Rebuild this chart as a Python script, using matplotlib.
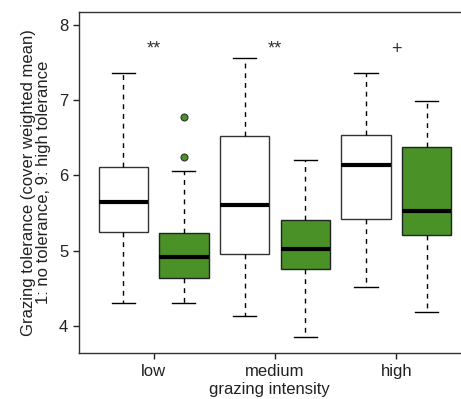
import numpy as np
import matplotlib
matplotlib.use("Agg")
import matplotlib.pyplot as plt

plt.rcParams['font.family'] = ['Liberation Sans', 'DejaVu Sans']

# ---- data ----
groups = ['low', 'medium', 'high']
# control (white) boxes
ctrl_lo = [4.30, 4.13, 4.51]
ctrl_q1 = [5.25, 4.96, 5.42]
ctrl_med = [5.65, 5.60, 6.14]
ctrl_q3 = [6.11, 6.53, 6.54]
ctrl_hi = [7.36, 7.56, 7.36]
ctrl_out = [[], [], []]
# grazed (green) boxes
graz_lo = [4.30, 3.85, 4.18]
graz_q1 = [4.64, 4.75, 5.21]
graz_med = [4.91, 5.02, 5.53]
graz_q3 = [5.24, 5.41, 6.38]
graz_hi = [6.06, 6.21, 6.99]
graz_out = [[6.25, 6.77], [], []]
signif = ['**', '**', '+']

green = '#4a9127'

fig = plt.figure(figsize=(4.61, 3.99), dpi=100)
ax = fig.add_axes([0.1707, 0.1145, 0.8293, 0.8555])

def stats(lo, q1, med, q3, hi, out):
    return [dict(whislo=lo[i], q1=q1[i], med=med[i], q3=q3[i], whishi=hi[i], fliers=out[i])
            for i in range(len(lo))]

pos_ctrl = np.arange(len(groups)) * 2 + 1
pos_graz = pos_ctrl + 1

common = dict(widths=0.81, patch_artist=True,
              whiskerprops=dict(color='black', linewidth=1, linestyle=(0, (3.5, 3.5))),
              capprops=dict(color='black', linewidth=1),
              medianprops=dict(color='black', linewidth=3, solid_capstyle='butt'),
              manage_ticks=False)

b1 = ax.bxp(stats(ctrl_lo, ctrl_q1, ctrl_med, ctrl_q3, ctrl_hi, ctrl_out), positions=pos_ctrl,
            boxprops=dict(facecolor='white', edgecolor='#333333', linewidth=1), **common)
b2 = ax.bxp(stats(graz_lo, graz_q1, graz_med, graz_q3, graz_hi, graz_out), positions=pos_graz,
            boxprops=dict(facecolor=green, edgecolor='#222222', linewidth=1),
            flierprops=dict(marker='o', markerfacecolor=green, markeredgecolor='#333333',
                            markersize=5, markeredgewidth=0.8), **common)
for b in (b1, b2):
    for c in b['caps']:
        x = c.get_xdata()
        m = x.mean()
        c.set_xdata([m - 0.19, m + 0.19])

for i, s in enumerate(signif):
    ax.text(pos_ctrl[i] + 0.5, 7.68, s, ha='center', va='center', fontsize=13, color='#333333')

ax.set_xlim(0.265, 6.566)
ax.set_ylim(3.634, 8.173)
ax.set_xticks(pos_ctrl + 0.5)
ax.set_xticklabels(groups)
ax.set_yticks([4, 5, 6, 7, 8])
ax.tick_params(axis='both', labelsize=12, colors='#222222', length=4, width=1)
ax.spines['right'].set_visible(False)
for s in ('left', 'top', 'bottom'):
    ax.spines[s].set_color('#333333')
    ax.spines[s].set_linewidth(1)

ax.set_xlabel('grazing intensity', fontsize=12, labelpad=2, color='#222222')
ax.set_ylabel('Grazing tolerance (cover weighted mean)\n1: no tolerance, 9: high tolerance',
              fontsize=12, labelpad=6, color='#222222', linespacing=1.0)

fig.savefig('out.png', dpi=100)
